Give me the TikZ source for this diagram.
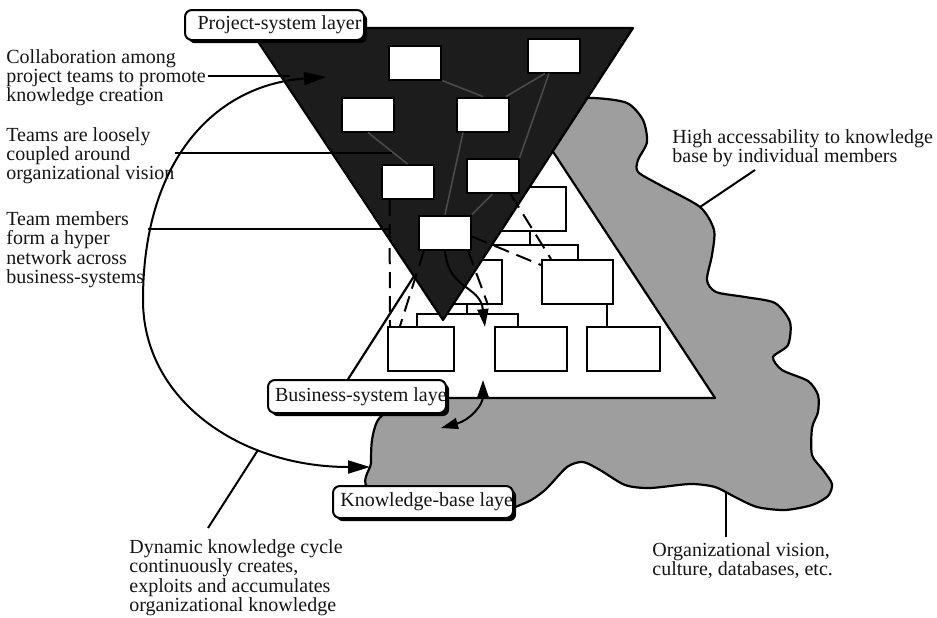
\documentclass[tikz,border=0pt]{standalone}
\usepackage{fontspec}
\setmainfont{Liberation Serif}
\usetikzlibrary{arrows.meta,shadows}
\definecolor{projfill}{HTML}{1C1C1C}
\definecolor{kbfill}{HTML}{9E9E9E}
\definecolor{linkgray}{HTML}{4A4A4A}
\definecolor{ink}{HTML}{141414}

\begin{document}
\begin{tikzpicture}[x=0.5pt,y=-0.5pt,
  outline/.style={draw=black, line width=1.1pt, line join=round},
  team/.style={draw=black, fill=white, line width=1pt, minimum width=26pt, minimum height=17pt, inner sep=0pt},
  unit/.style={draw=black, fill=white, line width=1pt, minimum height=22pt, inner sep=0pt},
  treeline/.style={draw=black, line width=1pt},
  teamlink/.style={draw=linkgray, line width=0.8pt},
  crosslink/.style={draw=black, line width=1pt, dash pattern=on 8pt off 4pt},
  leader/.style={draw=black, line width=1pt},
  bigtips/.style={{Triangle[length=11pt,width=6.5pt]}-{Triangle[length=11pt,width=6.5pt]}},
  smalltip/.style={-{Triangle[length=9pt,width=5.5pt]}},
  smalltips/.style={{Triangle[length=8.5pt,width=5.5pt]}-{Triangle[length=8.5pt,width=5.5pt]}},
  layerbox/.style={draw=black, fill=white, line width=1pt, rounded corners=3.5pt, inner sep=0pt,
    drop shadow={shadow xshift=1.6pt, shadow yshift=-1.6pt, fill=black, opacity=1}},
  note/.style={align=left, inner sep=0pt, anchor=north west, text=ink, font=\fontsize{10pt}{9.6pt}\selectfont},
  labeltext/.style={inner sep=0pt, anchor=west, text=ink, font=\fontsize{10pt}{12pt}\selectfont}
]
\path[use as bounding box] (0,0) rectangle (937,617);

% knowledge-base layer: grey cloud
\draw[outline, fill=kbfill] plot[smooth cycle, tension=0.45] coordinates {
  (540,100) (593,98) (627,103) (643,120) (647,142) (638,160) (638,172) (660,185)
  (700,207) (714,230) (712,255) (707,280) (716,292) (745,297) (775,303) (790,322)
  (788,345) (773,357) (782,370) (808,381) (818,395) (818,412) (812,428) (812,455)
  (823,470) (832,484) (828,496) (812,505) (785,510) (757,507) (735,497) (715,487)
  (690,484) (650,488) (625,485) (600,470) (583,462) (567,467) (545,490) (525,503)
  (490,510) (372,490) (371,463) (372,440) (378,420) (400,395) (450,300) (500,150)};

% business-system layer: white pyramid with its hierarchy
\draw[outline, fill=white] (336,398) -- (715,398) -- (523,106) -- cycle;

\node[unit, minimum width=36pt] (t1) at (530,209) {};
\node[unit, minimum width=35pt] (m1) at (467,282) {};
\node[unit, minimum width=35.5pt] (m2) at (577.5,282) {};
\node[unit, minimum width=33pt] (b1) at (421,349) {};
\node[unit, minimum width=36pt] (b2) at (531,349) {};
\node[unit, minimum width=36.5pt] (b3) at (623.5,349) {};

\draw[treeline] (t1.south) -- ++(0,13) coordinate (jt);
\draw[treeline] (m1.north) |- (jt) -| (m2.north);
\draw[treeline] (m1.south) -- ++(0,9) coordinate (jm);
\draw[treeline] ([xshift=-2pt]b1.north) |- (jm) -| ([xshift=-6.5pt]b2.north);
\draw[treeline] ([xshift=14.75pt]m2.south) -- ([xshift=-8.25pt]b3.north);

% project-system layer: dark inverted triangle with teams
\draw[outline, fill=projfill] (249,28) -- (633,28) -- (443,320) -- cycle;

\node[team] (p1) at (415,62.5) {};
\node[team] (p2) at (554,55.5) {};
\node[team] (p3) at (368,114.5) {};
\node[team] (p4) at (483,114.5) {};
\node[team] (p5) at (407.5,182) {};
\node[team] (p6) at (492.5,176) {};
\node[team] (p7) at (445,232.5) {};

\draw[teamlink] (p1.south east) -- (p4.north);
\draw[teamlink] ([xshift=9pt]p2.south west) -- ([xshift=-2pt]p4.north east);
\draw[teamlink] ([xshift=11pt]p2.south west) -- (p6.north east);
\draw[teamlink] (p3.south) -- (p5.north);
\draw[teamlink] ([xshift=-10pt]p4.south) -- (p7.north);
\draw[teamlink] (p6.south) -- (p7.north east);

% team members reaching into business units
\draw[crosslink] ([xshift=4.5pt]p5.south west) -- ([xshift=1.5pt]b1.north west);
\draw[crosslink] ([xshift=3pt]p7.south west) -- ([xshift=6.5pt]b1.north west);
\draw[crosslink] ([xshift=-2pt]p7.south east) -- ([xshift=10.5pt]m1.south);
\draw[crosslink] ([xshift=-4.5pt]p6.south east) -- ([xshift=5pt]m2.north west);
\draw[crosslink] ([yshift=-2pt]p7.east) -- ([yshift=-3pt]m2.north west);

% exchange arrows between layers
\coordinate (a1e) at (485,327);
\draw[leader, smalltip] (p7.south) .. controls (448,290) and (480,285) .. (a1e);
\coordinate (a2a) at (483,380);
\coordinate (a2b) at (441,428);
\draw[leader, smalltips] (a2a) .. controls (483,405) and (470,420) .. (a2b);

% dynamic knowledge cycle
\coordinate (cyc1) at (326,77);
\coordinate (cycm) at (143,300);
\coordinate (cyc2) at (370,467);
\draw[leader, bigtips] (cyc1) .. controls (215,85) and (143,160) .. (cycm)
  .. controls (143,400) and (240,467) .. (cyc2);

% annotations
\node[note] (g1) at (6,49.3) {Collaboration among\\project teams to promote\\knowledge creation};
\node[note] (g2) at (6,127) {Teams are loosely\\coupled around\\organizational vision};
\node[note] (g3) at (6,211.5) {Team members\\form a hyper\\network across\\business-systems};
\node[note] (g4) at (129,539.5) {Dynamic knowledge cycle\\continuously creates,\\exploits and accumulates\\organizational knowledge};
\node[note] (g5) at (672,129.5) {High accessability to knowledge\\base by individual members};
\node[note] (g6) at (652,542.5) {Organizational vision,\\culture, databases, etc.};

\coordinate (l1b) at (290,76);
\draw[leader] ([xshift=1pt]l1b -| g1.east) -- (l1b);
\coordinate (l2b) at (392,153);
\draw[leader] (l2b -| g2.east) -- (l2b);
\coordinate (l3b) at (390,229);
\draw[leader] ([xshift=1.5pt]l3b -| g3.east) -- (l3b);
\coordinate (l4a) at (258,450);
\coordinate (l4b) at (208,528);
\draw[leader] (l4a) -- (l4b);
\coordinate (l5a) at (755,170);
\coordinate (l5b) at (700,207);
\draw[leader] (l5a) -- (l5b);
\coordinate (l6a) at (726,492);
\coordinate (l6b) at (726,537);
\draw[leader] (l6a) -- (l6b);

% layer labels
\node[layerbox, minimum width=89.5pt, minimum height=15pt,
  path picture={\node[labeltext] at ([xshift=2pt]path picture bounding box.west) {Project-system layer};}]
  (psl) at (274.5,25) {};
\node[layerbox, minimum width=89pt, minimum height=16.5pt,
  path picture={\node[labeltext] at ([xshift=3pt]path picture bounding box.west) {Business-system layer};}]
  (bsl) at (357,396.5) {};
\node[layerbox, minimum width=90pt, minimum height=16pt,
  path picture={\node[labeltext] at ([xshift=3pt]path picture bounding box.west) {Knowledge-base layer};}]
  (ksl) at (423,502) {};
\end{tikzpicture}
\end{document}
